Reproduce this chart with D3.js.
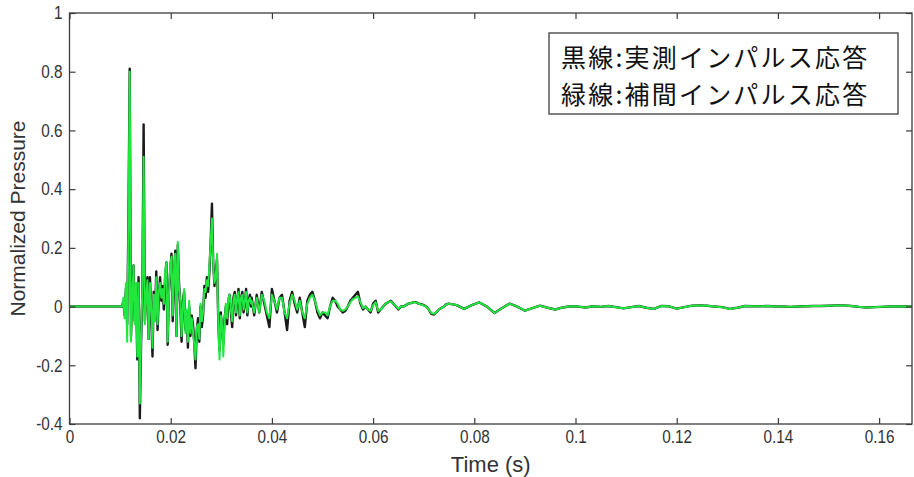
<!DOCTYPE html>
<html>
<head>
<meta charset="utf-8">
<script src="https://cdn.jsdelivr.net/npm/d3@7/dist/d3.min.js"></script>
<style>
body { margin: 0; background: #fff; }
</style>
</head>
<body>
<div id="impulse_response"></div>
<script>
var xTicks = [0, 0.02, 0.04, 0.06, 0.08, 0.1, 0.12, 0.14, 0.16];
var yTicks = [-0.4, -0.2, 0, 0.2, 0.4, 0.6, 0.8, 1];
var legendLines = ["黒線:実測インパルス応答", "緑線:補間インパルス応答"];

// silence before the direct sound arrives
var silenceTime = [0, 0.0104];

// early part: 0.0104 s onwards, one sample every 0.25 ms
var earlyStart = 0.0104, earlyStep = 0.00025;
var measuredEarly = [
    0.00, 0.02, -0.03, 0.06, -0.06, 0.30, 0.81, -0.10, 0.04, 0.14,
    -0.05, 0.06, -0.18, 0.10, -0.38, -0.12, 0.05, 0.62, -0.05, 0.04,
    0.10, -0.11, 0.10, -0.02, -0.17, 0.05, -0.03, 0.12, -0.08, 0.03,
    0.10, 0.02, 0.07, -0.01, 0.10, 0.15, -0.13, 0.05, 0.12, 0.18,
    -0.05, 0.10, 0.19, -0.10, 0.21, 0.08, 0.00, -0.12, 0.02, 0.05,
    -0.08, -0.02, -0.14, 0.00, -0.10, -0.03, -0.06, -0.12, -0.21, -0.08,
    -0.04, -0.12, 0.00, -0.07, -0.03, 0.07, 0.03, 0.10, 0.05, 0.12,
    0.22, 0.35, 0.15, 0.07, 0.12, 0.16, -0.05, -0.15, -0.02, -0.08,
    -0.13, -0.04, 0.00, -0.06, 0.02, 0.04, -0.02, -0.07, 0.03, 0.05,
    -0.03, 0.02, 0.06, -0.04, 0.03, 0.05, -0.02, 0.01, 0.06, -0.03,
    0.02, 0.04, 0.00
];
var interpEarly = [
    0.00, 0.03, -0.04, 0.08, -0.12, 0.28, 0.80, -0.12, 0.02, 0.14,
    -0.06, 0.08, -0.17, 0.08, -0.33, -0.10, 0.06, 0.51, -0.06, 0.03,
    0.09, -0.11, 0.08, 0.00, -0.14, 0.04, -0.05, 0.10, -0.06, 0.05,
    0.08, 0.03, 0.06, 0.01, 0.12, 0.15, -0.12, 0.04, 0.14, 0.17,
    -0.03, 0.12, 0.18, -0.10, 0.22, 0.06, 0.02, -0.10, 0.00, 0.06,
    -0.09, -0.01, -0.12, 0.02, -0.09, -0.04, -0.08, -0.13, -0.18, -0.07,
    -0.06, -0.11, 0.01, -0.05, -0.02, 0.06, 0.05, 0.09, 0.07, 0.14,
    0.22, 0.30, 0.14, 0.08, 0.10, 0.18, -0.06, -0.18, -0.03, -0.06,
    -0.17, -0.05, 0.01, -0.04, 0.03, 0.04, -0.01, -0.05, 0.02, 0.04,
    -0.02, 0.03, 0.05, -0.03, 0.03, 0.04, -0.01, 0.02, 0.05, -0.02,
    0.02, 0.03, 0.01
];

// middle part: 0.036 s onwards, every 0.5 ms
var midStart = 0.036, midStep = 0.0005;
var measuredMid = [
    0.03, -0.03, 0.04, -0.02, 0.05, 0.01, -0.03, -0.07, 0.06, 0.02,
    -0.02, 0.03, 0.04, -0.02, -0.08, 0.02, 0.05, 0.01, -0.02, 0.03,
    -0.02, -0.07, 0.02, 0.04, 0.05, 0.02, -0.02, -0.04, -0.02, -0.03,
    -0.04, 0.00, 0.03, 0.02, 0.00, -0.01, -0.02, -0.015, 0.00, 0.02,
    0.03, 0.04, 0.05, 0.01, -0.01, 0.00, -0.01, -0.02, 0.01, 0.02,
    -0.02, -0.01, 0.00, 0.01, 0.015, 0.02, 0.01, 0.00, -0.01, 0.00,
    0.00, 0.005, 0.01, 0.012, 0.015, 0.015, 0.01, 0.008, 0.005, 0.00,
    -0.01, -0.025, -0.027, -0.02, -0.01, -0.005, 0.00, 0.008, 0.01
];
var interpMid = [
    0.02, -0.02, 0.03, -0.02, 0.04, 0.02, -0.02, -0.04, 0.04, 0.02,
    -0.01, 0.03, 0.03, -0.02, -0.04, 0.01, 0.04, 0.02, -0.01, 0.02,
    -0.02, -0.04, 0.01, 0.03, 0.04, 0.02, -0.01, -0.03, -0.02, -0.02,
    -0.03, 0.00, 0.02, 0.02, 0.01, -0.01, -0.015, -0.01, 0.00, 0.015,
    0.025, 0.03, 0.035, 0.015, -0.005, 0.00, -0.01, -0.015, 0.005, 0.015,
    -0.015, -0.01, 0.00, 0.01, 0.015, 0.018, 0.01, 0.002, -0.008, 0.00,
    0.00, 0.005, 0.01, 0.012, 0.015, 0.014, 0.01, 0.007, 0.004, 0.00,
    -0.01, -0.022, -0.025, -0.02, -0.01, -0.005, 0.00, 0.007, 0.01
];

// late tail: 0.0765 s onwards, every 1.5 ms (both curves lie on top of each other)
var lateStart = 0.0765, lateStep = 0.0015;
var lateTail = [
    0.005, -0.008, 0.005, 0.014, 0.0, -0.022, -0.005, 0.01, 0.0, -0.014,
    -0.005, 0.003, -0.004, -0.01, -0.003, 0.001, 0.0, -0.003, 0.001, -0.001,
    0.002, -0.002, -0.006, -0.002, 0.002, -0.004, -0.008, 0.002, 0.001, -0.007,
    -0.002, 0.003, 0.004, 0.003, 0.0, -0.002, -0.008, -0.004, 0.002, 0.001,
    0.001, 0.002, 0.0, 0.0, -0.001, 0.0, 0.001, 0.002, 0.002, 0.003,
    0.004, 0.004, 0.002, -0.001, -0.003, -0.002, -0.001, 0.0, 0.001, 0.0,
    0.0
];

function samples(start, step, values) {
    return values.map(function(v, i) { return { t: start + i * step, v: v }; });
}

function buildSeries(early, mid, late) {
    var pts = [{ t: silenceTime[0], v: 0 }];
    return pts
        .concat(samples(earlyStart, earlyStep, early))
        .concat(samples(midStart, midStep, mid))
        .concat(samples(lateStart, lateStep, late));
}

function draw_impulse_response() {
    var width = 914, height = 477;
    var plot = { left: 69.5, right: 912, top: 13, bottom: 424 };
    var axisColor = "#3c3c3c";
    var labelFont = "'Liberation Sans', Arial, sans-serif";
    var squeeze = 0.85; // tick labels are a narrow face in the original

    var series = [
        { name: "measured", color: "#1a1a1a", width: 2.4, values: buildSeries(measuredEarly, measuredMid, lateTail) },
        { name: "interpolated", color: "#21e63f", width: 2.0, values: buildSeries(interpEarly, interpMid, lateTail) }
    ];

    var svg = d3.select("#impulse_response")
        .append("svg")
        .attr("width", width)
        .attr("height", height)
        .style("display", "block")
        .style("background", "#fff");

    var x = d3.scaleLinear()
        .domain([0, 0.1665])
        .range([plot.left, plot.right]);
    var y = d3.scaleLinear()
        .domain([-0.4, 1])
        .range([plot.bottom, plot.top]);

    svg.append("clipPath")
        .attr("id", "plot_clip")
        .append("rect")
        .attr("x", plot.left)
        .attr("y", plot.top)
        .attr("width", plot.right - plot.left)
        .attr("height", plot.bottom - plot.top);

    var line = d3.line()
        .x(function(d) { return x(d.t); })
        .y(function(d) { return y(d.v); });

    svg.append("g")
        .attr("clip-path", "url(#plot_clip)")
        .selectAll("path")
        .data(series)
        .enter()
        .append("path")
        .attr("d", function(d) { return line(d.values); })
        .attr("fill", "none")
        .attr("stroke", function(d) { return d.color; })
        .attr("stroke-width", function(d) { return d.width; })
        .attr("stroke-linejoin", "round");

    var fmt = function(d) { return String(d); };

    var bottomAxis = svg.append("g")
        .attr("transform", "translate(0," + plot.bottom + ")")
        .call(d3.axisBottom(x).tickValues(xTicks).tickFormat(fmt).tickSizeInner(-6).tickSizeOuter(0).tickPadding(6));
    var leftAxis = svg.append("g")
        .attr("transform", "translate(" + plot.left + ",0)")
        .call(d3.axisLeft(y).tickValues(yTicks).tickFormat(fmt).tickSizeInner(-6).tickSizeOuter(0).tickPadding(7));
    var topAxis = svg.append("g")
        .attr("transform", "translate(0," + plot.top + ")")
        .call(d3.axisTop(x).tickValues(xTicks).tickFormat("").tickSizeInner(-6).tickSizeOuter(0));
    var rightAxis = svg.append("g")
        .attr("transform", "translate(" + plot.right + ",0)")
        .call(d3.axisRight(y).tickValues(yTicks).tickFormat("").tickSizeInner(-6).tickSizeOuter(0));

    [bottomAxis, leftAxis, topAxis, rightAxis].forEach(function(g) {
        g.select(".domain").remove();
        g.selectAll(".tick line").attr("stroke", axisColor).attr("stroke-width", 1.2);
        g.selectAll(".tick text")
            .attr("fill", "#333")
            .style("font-family", labelFont)
            .style("font-size", "18px");
    });

    // squeeze the tick labels sideways, keeping their anchor in place
    bottomAxis.selectAll(".tick text")
        .attr("transform", "scale(" + squeeze + ",1)");
    leftAxis.selectAll(".tick text")
        .attr("x", -7 / squeeze)
        .attr("transform", "scale(" + squeeze + ",1)");

    svg.append("rect")
        .attr("x", plot.left)
        .attr("y", plot.top)
        .attr("width", plot.right - plot.left)
        .attr("height", plot.bottom - plot.top)
        .attr("fill", "none")
        .attr("stroke", axisColor)
        .attr("stroke-width", 1.3);

    svg.append("text")
        .attr("x", (plot.left + plot.right) / 2)
        .attr("y", 472)
        .attr("text-anchor", "middle")
        .attr("fill", "#333")
        .style("font-family", labelFont)
        .style("font-size", "22px")
        .text("Time (s)");

    svg.append("text")
        .attr("transform", "translate(25," + ((plot.top + plot.bottom) / 2) + ") rotate(-90)")
        .attr("text-anchor", "middle")
        .attr("fill", "#333")
        .style("font-family", labelFont)
        .style("font-size", "21px")
        .text("Normalized Pressure");

    // legend box
    var legend = svg.append("g");
    legend.append("rect")
        .attr("x", 549)
        .attr("y", 33)
        .attr("width", 349)
        .attr("height", 81)
        .attr("fill", "#fff")
        .attr("stroke", "#555")
        .attr("stroke-width", 1.5);
    legend.selectAll("text")
        .data(legendLines)
        .enter()
        .append("text")
        .attr("x", 561)
        .attr("y", function(d, i) { return 67 + i * 36.5; })
        .attr("fill", "#111")
        .style("font-family", "'Noto Sans CJK JP', sans-serif")
        .style("font-size", "25px")
        .style("letter-spacing", "2.2px")
        .text(function(d) { return d; });
}

draw_impulse_response();
</script>
</body>
</html>
